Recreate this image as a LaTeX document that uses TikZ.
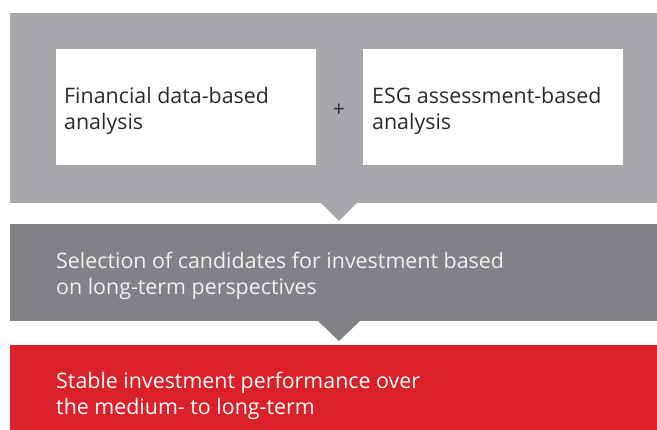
\documentclass[tikz,border=0pt]{standalone}
\usepackage{fontspec}
\setmainfont{Open Sans}
\usetikzlibrary{positioning,calc}
\definecolor{lgray}{HTML}{A7A8AC}
\definecolor{dgray}{HTML}{818286}
\definecolor{accred}{HTML}{DA2028}
\definecolor{ink}{HTML}{2B2B2B}
\tikzset{
  band/.style={inner sep=0pt,outer sep=0pt,anchor=north west,minimum width=647pt},
  card/.style={fill=white,inner sep=0pt,outer sep=0pt,anchor=north west,minimum width=260pt,minimum height=116pt},
  txt/.style={inner sep=0pt,anchor=base west,align=left,font=\fontsize{21.4}{26}\selectfont},
}
\begin{document}
\begin{tikzpicture}[x=1pt,y=-1pt]
  \useasboundingbox (0,0) rectangle (657,430);
  % three bands, top to bottom
  \node[band,fill=lgray,minimum height=190pt] (inputs) at (10,13) {};
  \node[band,fill=dgray,minimum height=97pt] (select) at (10,224) {};
  \node[band,fill=accred,minimum height=86pt] (result) at (10,345) {};
  % pointers between the bands
  \fill[lgray] (321,203) -- (339,221) -- (357,203) -- cycle;
  \fill[dgray] (318,321) -- (339,341) -- (360,321) -- cycle;
  % the two analyses
  \node[card] (fin) at (56,49) {};
  \node[card] (esg) at (363,49) {};
  \node[font=\fontsize{21}{21}\selectfont,text=ink,inner sep=0pt] (plus) at (339,110) {+};
  % anchors sit on the baseline of the last line
  \node[txt,text=ink] (fintxt) at (64,130) {Financial data-based\\analysis};
  \node[txt,text=ink] (esgtxt) at (372,130) {ESG assessment-based\\analysis};
  \node[txt,text=white!94!black] (seltxt) at (56,295) {Selection of candidates for investment based\\on long-term perspectives};
  \node[txt,text=white] (restxt) at (56,415) {Stable investment performance over\\the medium- to long-term};
\end{tikzpicture}
\end{document}
